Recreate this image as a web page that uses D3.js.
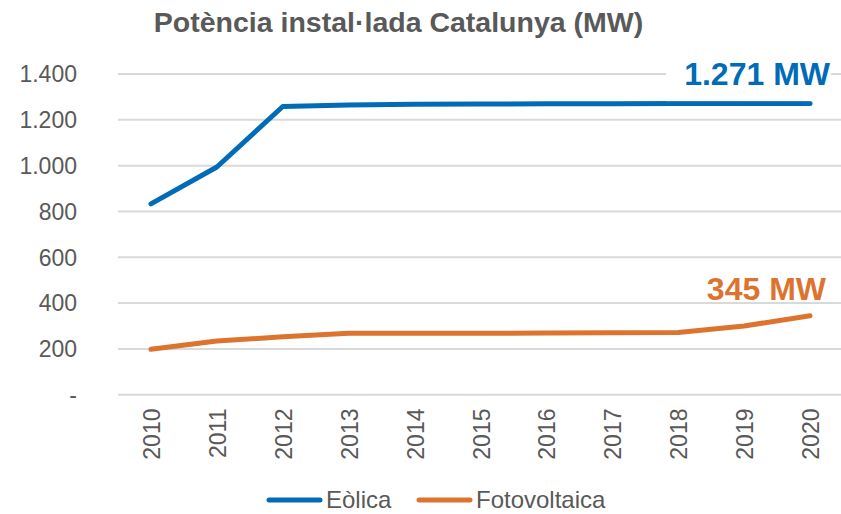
<!DOCTYPE html>
<html><head><meta charset="utf-8">
<script src="https://cdn.jsdelivr.net/npm/d3@7"></script>
<style>body{margin:0;background:#fff}svg{display:block;font-family:"Liberation Sans",Arial,sans-serif}</style>
</head><body>
<script>
const years = ["2010","2011","2012","2013","2014","2015","2016","2017","2018","2019","2020"];
const eolica = [833, 994, 1258, 1265, 1268, 1269, 1270, 1270, 1271, 1271, 1271];
const fotovoltaica = [198, 234, 253, 268, 268, 268, 269, 270, 272, 300, 345];
const yTicks = [0, 200, 400, 600, 800, 1000, 1200, 1400];
const seriesNames = ["Eòlica", "Fotovoltaica"];
const colors = ["#006CB8", "#DC7430"];
const titleText = "Potència instal·lada Catalunya (MW)";
const labels = ["1.271 MW", "345 MW"];

const W = 841, H = 514;
const svg = d3.select("body").append("svg").attr("width", W).attr("height", H);

const x = d3.scalePoint().domain(years).range([118, 843]).padding(0.5);
const y = d3.scaleLinear().domain([0, 1400]).range([394.7, 74]);
const fmt = v => v === 0 ? "-" : d3.format(",")(v).replace(/,/g, ".");

// gridlines
svg.append("g").selectAll("line").data(yTicks).join("line")
  .attr("x1", 118).attr("x2", 841)
  .attr("y1", d => y(d)).attr("y2", d => y(d))
  .attr("stroke", "#d9d9d9").attr("stroke-width", 2);

// y axis labels
const yAxis = d3.axisLeft(y).tickValues(yTicks).tickFormat(fmt).tickSize(0).tickPadding(0);
const gy = svg.append("g").attr("transform", "translate(77,0.5)").call(yAxis);
gy.select(".domain").remove();
gy.selectAll("text").attr("fill", "#595959").attr("font-size", 23)
  .attr("font-family", "Liberation Sans, Arial, sans-serif");

// x axis labels
const xAxis = d3.axisBottom(x).tickSize(0).tickPadding(0);
const gx = svg.append("g").attr("transform", "translate(0.5,408.5)").call(xAxis);
gx.select(".domain").remove();
gx.selectAll("text").attr("fill", "#595959").attr("font-size", 23)
  .attr("font-family", "Liberation Sans, Arial, sans-serif")
  .attr("transform", "rotate(-90)").attr("text-anchor", "end")
  .attr("x", 0).attr("y", 0).attr("dx", 0).attr("dy", "0.35em");

// lines
const line = d3.line().x((d, i) => x(years[i])).y(d => y(d));
[eolica, fotovoltaica].forEach((s, k) => {
  svg.append("path").datum(s).attr("d", line)
    .attr("fill", "none").attr("stroke", colors[k]).attr("stroke-width", 5)
    .attr("stroke-linecap", "round").attr("stroke-linejoin", "round");
});

// label box for 1.271 MW
svg.append("rect").attr("x", 666).attr("y", 55).attr("width", 165).attr("height", y(eolica[10]) - 2.4 - 55).attr("fill", "#fff");
svg.append("text").attr("x", 830).attr("y", 85).attr("text-anchor", "end")
  .attr("font-size", 32).attr("font-weight", "bold").attr("fill", colors[0]).text(labels[0]);
svg.append("text").attr("x", 826).attr("y", 300).attr("text-anchor", "end")
  .attr("font-size", 32).attr("font-weight", "bold").attr("fill", colors[1]).text(labels[1]);

// title
svg.append("text").attr("x", 398.5).attr("y", 32).attr("text-anchor", "middle")
  .attr("font-size", 28.5).attr("font-weight", "bold").attr("fill", "#595959").text(titleText);

// legend
const legX = [267, 417];
seriesNames.forEach((n, k) => {
  const g = svg.append("g").attr("transform", `translate(${legX[k]},500)`);
  g.append("line").attr("x1", 2).attr("x2", 53).attr("y1", 0).attr("y2", 0)
    .attr("stroke", colors[k]).attr("stroke-width", 5).attr("stroke-linecap", "round");
  g.append("text").attr("x", 59).attr("y", 8).attr("font-size", 24).attr("fill", "#595959").text(n);
});
</script>
</body></html>
